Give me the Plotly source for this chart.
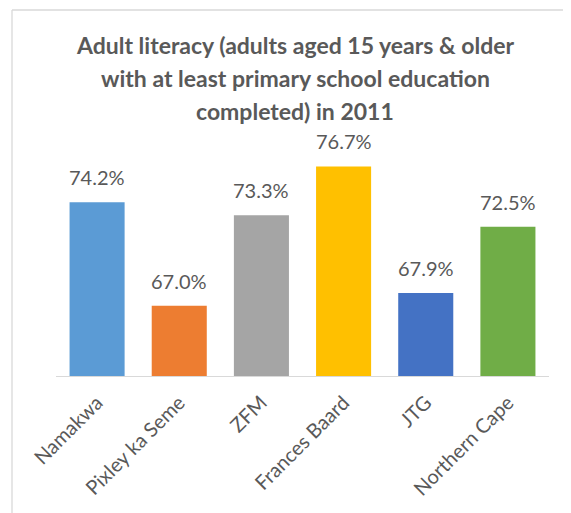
import plotly.graph_objects as go

categories = ["Namakwa", "Pixley ka Seme", "ZFM", "Frances Baard", "JTG", "Northern Cape"]
values = [74.2, 67.0, 73.3, 76.7, 67.9, 72.5]
labels = ["74.2%", "67.0%", "73.3%", "76.7%", "67.9%", "72.5%"]
colors = ["#5B9BD5", "#ED7D31", "#A5A5A5", "#FFC000", "#4472C4", "#70AD47"]
title_lines = ["Adult literacy (adults aged 15 years & older",
               "with at least primary school education",
               "completed) in 2011"]

# page body has an 8px offset; figure coordinates are screen coordinates minus 8
OFF = 8
W, H = 571 - OFF, 513 - OFF
ML, MT = 56 - OFF, 119 - OFF
pw, ph = 493, 257
MR = W - ML - pw
MB = H - MT - ph

def px_x(p):
    return (p - OFF - ML) / pw

def px_y(p):
    return (MT + ph - (p - OFF)) / ph

fig = go.Figure()
fig.add_trace(go.Bar(
    x=categories, y=values, marker_color=colors, marker_line_width=0,
    hoverinfo="skip",
))

for c, v, t in zip(categories, values, labels):
    fig.add_annotation(x=c, y=v, text=t, showarrow=False, yanchor="bottom",
                       yshift=11, font=dict(family="Lato", size=20, color="#595959"))

for i, line in enumerate(title_lines):
    fig.add_annotation(xref="paper", yref="paper", x=px_x(295), y=px_y(45 + 33 * i),
                       xanchor="center", yanchor="middle", text=line, showarrow=False,
                       font=dict(family="Lato", size=23, color="#595959", weight="bold"))

border = "#d9d9d9"
fig.add_shape(type="line", xref="paper", yref="paper",
              x0=px_x(12), x1=px_x(12), y0=px_y(520), y1=px_y(10),
              line=dict(color=border, width=1.3))
fig.add_shape(type="line", xref="paper", yref="paper",
              x0=px_x(12), x1=px_x(580), y0=px_y(10), y1=px_y(10),
              line=dict(color=border, width=1.3))

fig.update_layout(
    width=W, height=H,
    margin=dict(l=ML, r=MR, t=MT, b=MB, autoexpand=False),
    paper_bgcolor="white", plot_bgcolor="white",
    bargap=0.33,
    showlegend=False,
    xaxis=dict(showline=True, linecolor=border, linewidth=1.3, ticks="",
               tickangle=-45, tickfont=dict(family="Lato", size=20, color="#595959"),
               ticklabelstandoff=6, automargin=False,
               showgrid=False, fixedrange=True),
    yaxis=dict(visible=False, range=[62.12, 80], showgrid=False, zeroline=False,
               fixedrange=True, automargin=False),
)

fig.write_html("out.html")
